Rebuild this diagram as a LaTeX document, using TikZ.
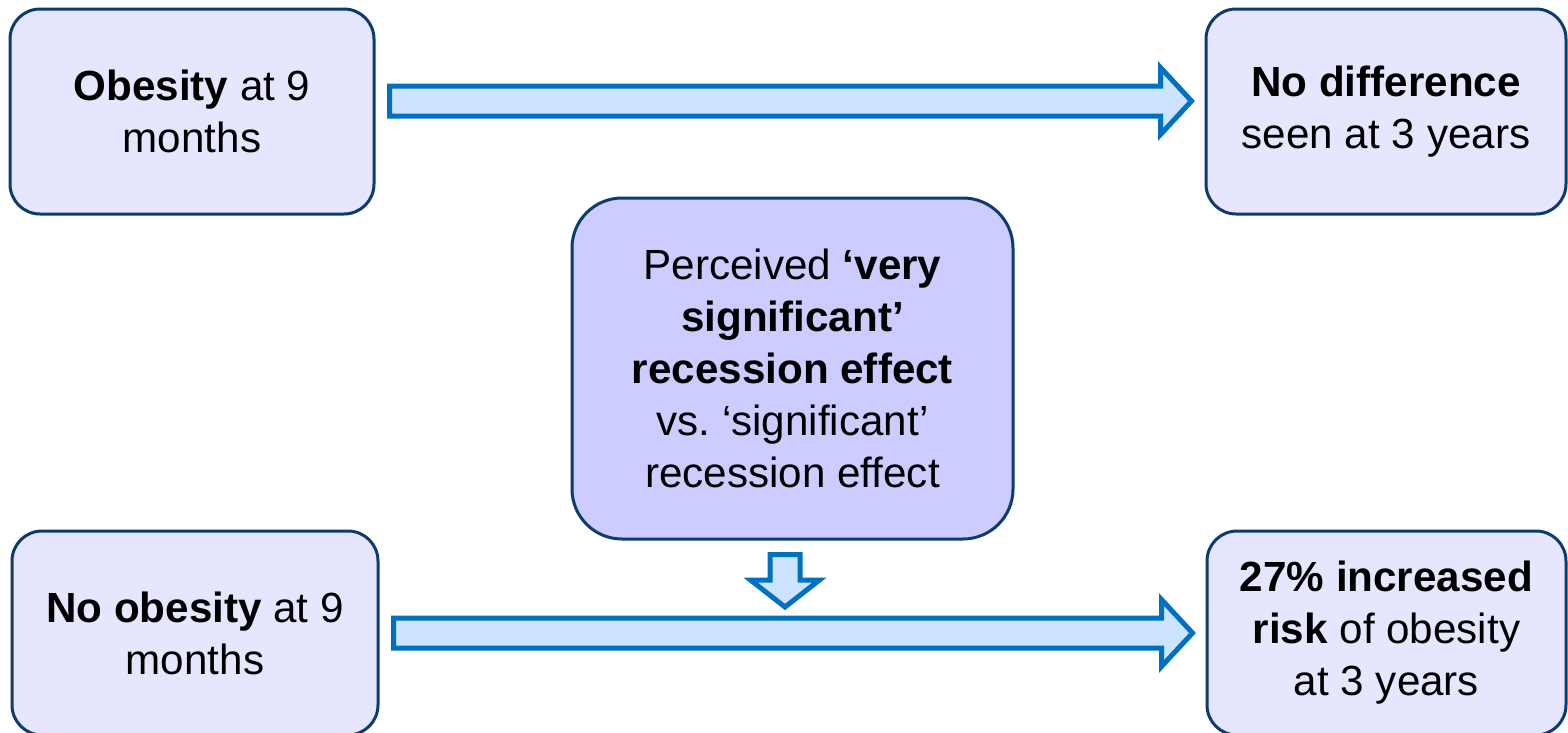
\documentclass[tikz,border=0pt]{standalone}
\usepackage{fontspec}
\setmainfont{Liberation Sans}
\usepackage{tikz}
\usetikzlibrary{positioning,calc}
\definecolor{BoxFill}{HTML}{E6E6FF}
\definecolor{BoxMid}{HTML}{CCCCFF}
\definecolor{BoxLine}{HTML}{0D3B6E}
\definecolor{ArrLine}{HTML}{0070C0}
\definecolor{ArrFill}{HTML}{CCE4FF}

\begin{document}
\begin{tikzpicture}[x=0.1mm, y=-0.1mm,
    font=\fontsize{12pt}{14.8pt}\selectfont,
    outcome/.style={draw=BoxLine, line width=0.3mm, fill=BoxFill,
        rounded corners=3mm, align=center, inner sep=0pt},
    blockarrow/.style={draw=ArrLine, line width=0.5mm, fill=ArrFill, line join=miter}]
  \useasboundingbox (0,0) rectangle (1568,732);
  % boxes
  \node[outcome, minimum width=36.4mm, minimum height=20.5mm] (obes) at (192,111.5)
        {\textbf{Obesity} at 9\\months};
  \node[outcome, minimum width=36mm, minimum height=20.5mm] (nodiff) at (1386,111.5)
        {\textbf{No difference}\\seen at 3 years};
  \node[outcome, fill=BoxMid, rounded corners=5mm, minimum width=44.1mm,
        minimum height=34.1mm] (recess) at (792.5,368.5)
        {Perceived \textbf{`very}\\\textbf{significant'}\\\textbf{recession effect}\\vs.\ `significant'\\recession effect};
  \node[outcome, minimum width=36.6mm, minimum height=20.4mm] (noob) at (195,633)
        {\textbf{No obesity} at 9\\months};
  \node[outcome, minimum width=35.9mm, minimum height=20.4mm] (risk) at (1386.5,633)
        {\textbf{27\% increased}\\\textbf{risk} of obesity\\at 3 years};
  % horizontal block arrows
  \foreach \a/\b/\dy in {obes/nodiff/-10.5, noob/risk/0}{
    \coordinate (t1) at ($(\a.east)+(14,\dy)$);
    \coordinate (t2) at ($(\b.west)+(-13,\dy)$);
    \draw[blockarrow] ($(t1)+(0,-15)$) -- ($(t2)+(-31,-15)$) -- ($(t2)+(-31,-33.5)$)
      -- (t2) -- ($(t2)+(-31,33.5)$) -- ($(t2)+(-31,15)$) -- ($(t1)+(0,15)$) -- cycle;
  }
  % small down arrow
  \coordinate (d1) at ($(recess.south)+(-7.5,14)$);
  \coordinate (b1) at ($(noob.east)+(14,0)$);
  \coordinate (dtip) at ($(d1 |- b1)+(0,-26)$);
  \draw[blockarrow] ($(d1)+(-15,0)$) -- ($(dtip)+(-15,-27)$) -- ($(dtip)+(-34.5,-27)$)
    -- (dtip) -- ($(dtip)+(34.5,-27)$) -- ($(dtip)+(15,-27)$) -- ($(d1)+(15,0)$) -- cycle;
\end{tikzpicture}
\end{document}
